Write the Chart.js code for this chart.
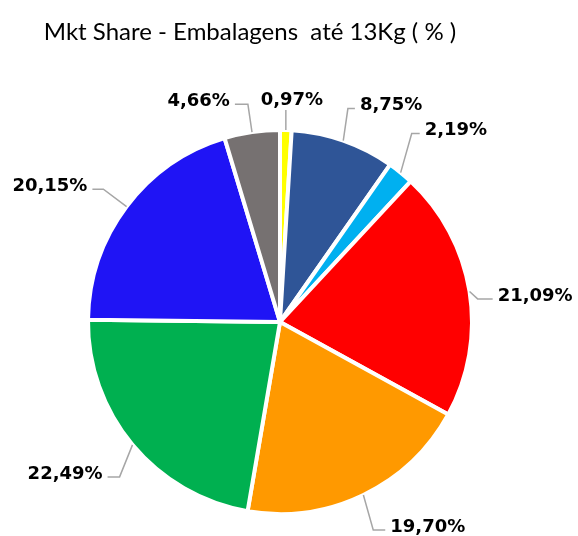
<!DOCTYPE html>
<html>
<head>
<meta charset="utf-8">
<script src="https://cdn.jsdelivr.net/npm/chart.js@4.4.0/dist/chart.umd.min.js"></script>
<style>
  html, body { margin: 0; padding: 0; background: #fff; }
  #wrap { width: 578px; height: 536px; }
</style>
</head>
<body>
<div id="wrap"><canvas id="pieChart"></canvas></div>
<script>
const chartTitle = 'Mkt Share - Embalagens  até 13Kg ( % )';
const segments = ['Amarelo', 'Azul escuro', 'Azul claro', 'Vermelho', 'Laranja', 'Verde', 'Azul', 'Cinza'];
const shares = [0.97, 8.75, 2.19, 21.09, 19.70, 22.49, 20.15, 4.66];
const sliceColors = ['#FFFF00', '#2F5597', '#00B0F0', '#FF0000', '#FF9900', '#00B050', '#1F14F5', '#767171'];

// label placement tweaks (Excel "best fit" nudges): angle shift in degrees, elbow gap beyond the rim, tail length
const labelShift = [0, -1.6, -4, 2.5, 1.6, -4.2, 0, 0];
const labelGap = [20, 32, 38, 7, 36, 31, 29, 28];
const labelTail = [0, 7, 8, 15, 12, 12, 11, 13];

function fmtPct(v) {
  return v.toFixed(2).replace('.', ',') + '%';
}

// title drawn by hand so it can sit left of the canvas centre like the original
const titlePlugin = {
  id: 'titlePlugin',
  afterDraw(chart) {
    const ctx = chart.ctx;
    ctx.save();
    ctx.font = '24px Lato';
    ctx.fillStyle = '#000';
    ctx.textAlign = 'center';
    ctx.textBaseline = 'alphabetic';
    ctx.fillText(chartTitle, 250, 40);
    ctx.restore();
  }
};

// outside labels with elbow leader lines
const leaderLabels = {
  id: 'leaderLabels',
  afterDatasetsDraw(chart) {
    const ctx = chart.ctx;
    const meta = chart.getDatasetMeta(0);
    ctx.save();
    ctx.font = 'bold 18px "DejaVu Sans"';
    ctx.fillStyle = '#000';
    ctx.strokeStyle = '#A6A6A6';
    ctx.lineWidth = 1.5;
    meta.data.forEach((arc, i) => {
      const p = arc.getProps(['x', 'y', 'startAngle', 'endAngle', 'outerRadius'], true);
      const mid = (p.startAngle + p.endAngle) / 2;
      const ax = p.x + Math.cos(mid) * p.outerRadius, ay = p.y + Math.sin(mid) * p.outerRadius;
      const la = mid + labelShift[i] * Math.PI / 180;
      const cos = Math.cos(la), sin = Math.sin(la);
      const text = fmtPct(shares[i]);

      if (Math.abs(cos) < 0.1) {
        const ey = p.y + sin * (p.outerRadius + labelGap[i]);
        ctx.beginPath();
        ctx.moveTo(ax, ay);
        ctx.lineTo(ax, ey);
        ctx.stroke();
        ctx.textAlign = 'center';
        ctx.textBaseline = 'bottom';
        ctx.fillText(text, ax + 6, ey - 1);
        return;
      }

      const ex = p.x + cos * (p.outerRadius + labelGap[i]);
      const ey = p.y + sin * (p.outerRadius + labelGap[i]);
      const dir = cos > 0 ? 1 : -1;
      const tx = ex + dir * labelTail[i];
      ctx.beginPath();
      ctx.moveTo(ax, ay);
      ctx.lineTo(ex, ey);
      ctx.lineTo(tx, ey);
      ctx.stroke();
      ctx.textAlign = dir > 0 ? 'left' : 'right';
      ctx.textBaseline = 'middle';
      ctx.fillText(text, tx + dir * 5, ey - 3);
    });
    ctx.restore();
  }
};

const ctx = document.getElementById('pieChart').getContext('2d');
new Chart(ctx, {
  type: 'pie',
  data: {
    labels: segments,
    datasets: [{
      data: shares,
      backgroundColor: sliceColors,
      borderColor: '#FFFFFF',
      borderWidth: 4
    }]
  },
  options: {
    responsive: true,
    maintainAspectRatio: false,
    animation: false,
    radius: 192,
    layout: {
      padding: { top: 108, bottom: 0, left: 0, right: 18 }
    },
    plugins: {
      legend: { display: false },
      title: { display: false },
      tooltip: { enabled: false }
    }
  },
  plugins: [leaderLabels, titlePlugin]
});
</script>
</body>
</html>
